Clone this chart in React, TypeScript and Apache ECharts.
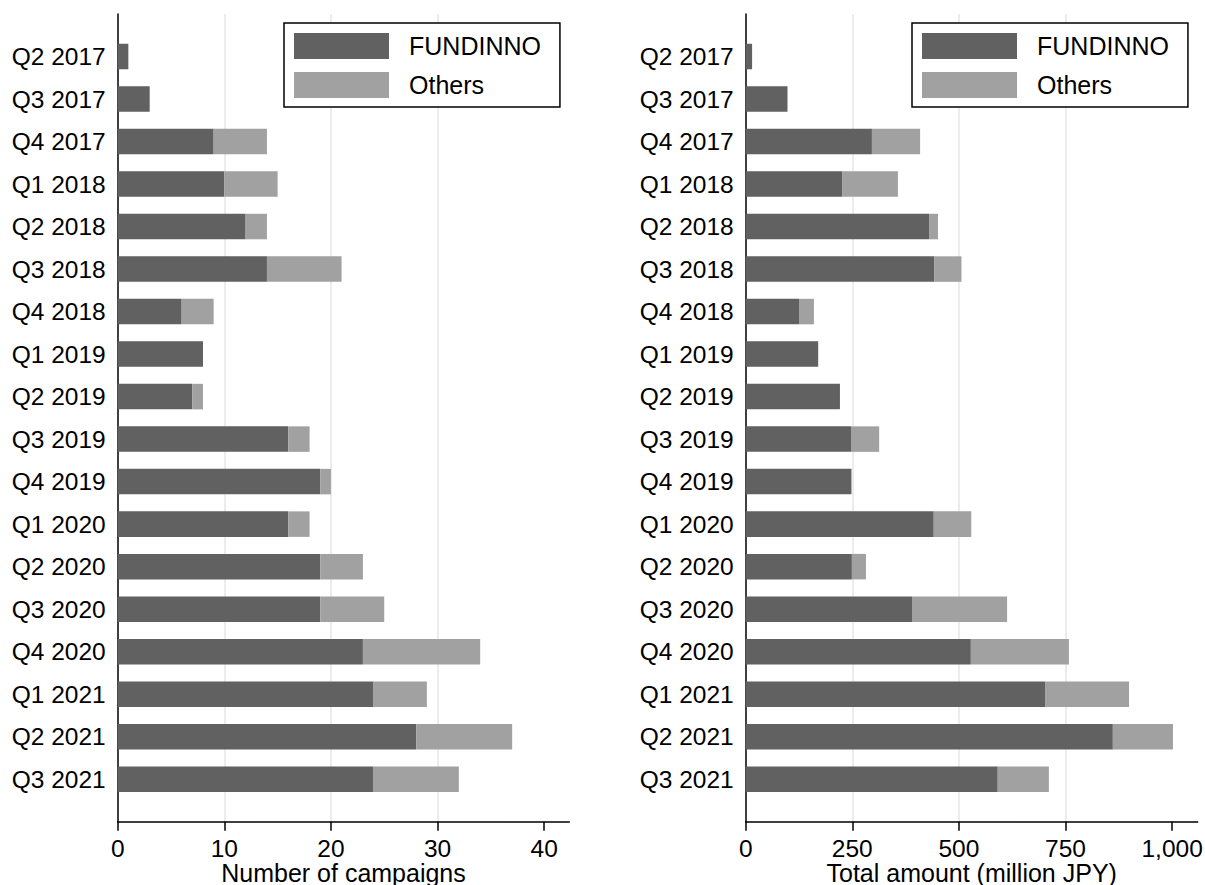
import React, { useEffect, useRef } from "react";
import * as echarts from "echarts";

const quarters = [
  "Q2 2017", "Q3 2017", "Q4 2017", "Q1 2018", "Q2 2018", "Q3 2018",
  "Q4 2018", "Q1 2019", "Q2 2019", "Q3 2019", "Q4 2019", "Q1 2020",
  "Q2 2020", "Q3 2020", "Q4 2020", "Q1 2021", "Q2 2021", "Q3 2021",
];
const campaignsFundinno = [1, 3, 9, 10, 12, 14, 6, 8, 7, 16, 19, 16, 19, 19, 23, 24, 28, 24];
const campaignsOthers = [0, 0, 5, 5, 2, 7, 3, 0, 1, 2, 1, 2, 4, 6, 11, 5, 9, 8];
const amountFundinno = [15, 98, 296, 226, 430, 442, 125, 170, 221, 247, 248, 441, 249, 390, 528, 702, 861, 591];
const amountOthers = [0, 0, 113, 131, 21, 64, 35, 0, 0, 66, 0, 88, 33, 223, 230, 197, 141, 120];
const campaignTicks = [0, 10, 20, 30, 40];
const amountTicks = [0, 250, 500, 750, 1000];
const seriesNames = ["FUNDINNO", "Others"];

const FONT = "'Liberation Sans', Arial, Helvetica, sans-serif";
const DARK = "#616161";
const LIGHT = "#a1a1a1";

const pad = (arr: any[]) => ["-", ...arr, "-"];

function xAxis(gridIndex: number, max: number, interval: number, ticks: number[], name: string) {
  return {
    type: "value",
    gridIndex,
    min: 0,
    max,
    interval,
    name,
    nameLocation: "middle",
    nameGap: 39,
    nameMoveOverlap: false,
    nameTextStyle: { fontSize: 25, color: "#000", fontFamily: FONT },
    axisLine: { show: true, lineStyle: { color: "#000", width: 1.5 } },
    axisTick: { show: true, length: 9, customValues: ticks, lineStyle: { color: "#000", width: 1.5 } },
    axisLabel: {
      customValues: ticks,
      margin: 14,
      fontSize: 24.5,
      color: "#000",
      fontFamily: FONT,
      formatter: (v: number) => v.toLocaleString("en-US"),
    },
    splitLine: {
      show: true,
      showMinLine: false,
      showMaxLine: false,
      lineStyle: { color: "#e6e6e6", width: 1.5 },
    },
  };
}

function yAxis(gridIndex: number) {
  return {
    type: "category",
    gridIndex,
    inverse: true,
    boundaryGap: false,
    data: ["", ...quarters, ""],
    axisLine: { show: true, lineStyle: { color: "#000", width: 1.5 } },
    axisTick: { show: false },
    axisLabel: { interval: 0, margin: 12, fontSize: 24.5, color: "#000", fontFamily: FONT },
    splitLine: { show: false },
  };
}

function legend(left: number) {
  return {
    data: seriesNames,
    orient: "vertical",
    left,
    top: 23,
    icon: "rect",
    itemWidth: 95,
    itemHeight: 26,
    itemGap: 13,
    padding: [10, 19, 9, 10],
    borderColor: "#000",
    borderWidth: 1.5,
    backgroundColor: "#fff",
    textStyle: { fontSize: 25, color: "#000", fontFamily: FONT, padding: [0, 0, 0, 15] },
  };
}

function bars(axisIndex: number, f: number[], o: number[], stack: string) {
  return [
    {
      name: seriesNames[0],
      type: "bar",
      xAxisIndex: axisIndex,
      yAxisIndex: axisIndex,
      stack,
      barWidth: "60%",
      itemStyle: { color: DARK },
      data: pad(f),
    },
    {
      name: seriesNames[1],
      type: "bar",
      xAxisIndex: axisIndex,
      yAxisIndex: axisIndex,
      stack,
      barWidth: "60%",
      itemStyle: { color: LIGHT },
      data: pad(o),
    },
  ];
}

export default function App() {
  const ref = useRef<HTMLDivElement>(null);
  useEffect(() => {
    if (!ref.current) return;
    const chart = echarts.init(ref.current, null, { renderer: "svg" });
    chart.setOption({
      animation: false,
      backgroundColor: "#fff",
      textStyle: { fontFamily: FONT },
      grid: [
        { left: 117.7, right: 635.7, top: 14, bottom: 63.3, outerBoundsMode: "none", containLabel: false },
        { left: 745.7, right: 7.3, top: 14, bottom: 63.3, outerBoundsMode: "none", containLabel: false },
      ],
      xAxis: [
        xAxis(0, 42.36, 10, campaignTicks, "Number of campaigns"),
        xAxis(1, 1060, 250, amountTicks, "Total amount (million JPY)"),
      ],
      yAxis: [yAxis(0), yAxis(1)],
      legend: [legend(284), legend(912)],
      series: [
        ...bars(0, campaignsFundinno, campaignsOthers, "c"),
        ...bars(1, amountFundinno, amountOthers, "a"),
      ],
    });
    return () => chart.dispose();
  }, []);
  return (
    <div
      ref={ref}
      style={{ position: "fixed", left: 0, top: 0, width: 1205, height: 885, background: "#fff" }}
    />
  );
}
